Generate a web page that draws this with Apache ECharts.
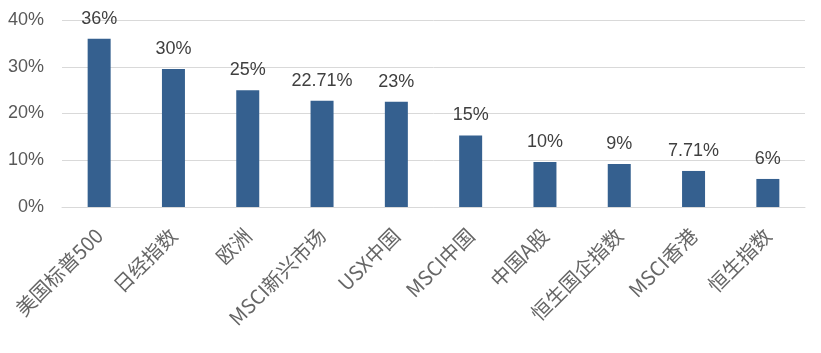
<!DOCTYPE html>
<html>
<head>
<meta charset="utf-8">
<script src="https://cdn.jsdelivr.net/npm/echarts@6/dist/echarts.min.js"></script>
<style>
html,body{margin:0;padding:0;background:#fff;}
#main{width:821px;height:353px;}
</style>
</head>
<body>
<div id="main"></div>
<script>
// 类别、柱高、柱顶标签
var categories = ['美国标普500','日经指数','欧洲','MSCI新兴市场','USX中国','MSCI中国','中国A股','恒生国企指数','MSCI香港','恒生指数'];
var values = [36, 29.5, 25, 22.71, 22.5, 15.3, 9.6, 9.2, 7.71, 6];
var barLabels = ['36%','30%','25%','22.71%','23%','15%','10%','9%','7.71%','6%'];
var yTicks = [0, 10, 20, 30, 40];

var myChart = echarts.init(document.getElementById('main'));
var option = {
	animation: false,
	grid: { left: 62, right: 16, top: 20, bottom: 146 },
	xAxis: {
		type: 'category',
		data: categories,
		axisTick: { show: false },
		axisLine: { lineStyle: { color: '#d9d9d9', width: 1 } },
		axisLabel: {
			interval: 0,
			rotate: 45,
			margin: 25,
			color: '#666666',
			fontSize: 20,
			fontFamily: 'Noto Sans CJK SC'
		}
	},
	yAxis: {
		type: 'value',
		min: yTicks[0],
		max: yTicks[yTicks.length - 1],
		interval: 10,
		axisLine: { show: false },
		axisTick: { show: false },
		splitLine: { lineStyle: { color: '#d9d9d9', width: 1 } },
		axisLabel: {
			margin: 18,
			color: '#595959',
			fontSize: 18,
			fontFamily: 'Liberation Sans',
			formatter: '{value}%'
		}
	},
	series: [{
		type: 'bar',
		data: values,
		barWidth: 23,
		itemStyle: { color: '#35608f' },
		label: {
			show: true,
			position: 'top',
			distance: 11,
			color: '#404040',
			fontSize: 18,
			fontFamily: 'Liberation Sans',
			formatter: function (p) { return barLabels[p.dataIndex]; }
		}
	}]
};
myChart.setOption(option);
</script>
</body>
</html>
